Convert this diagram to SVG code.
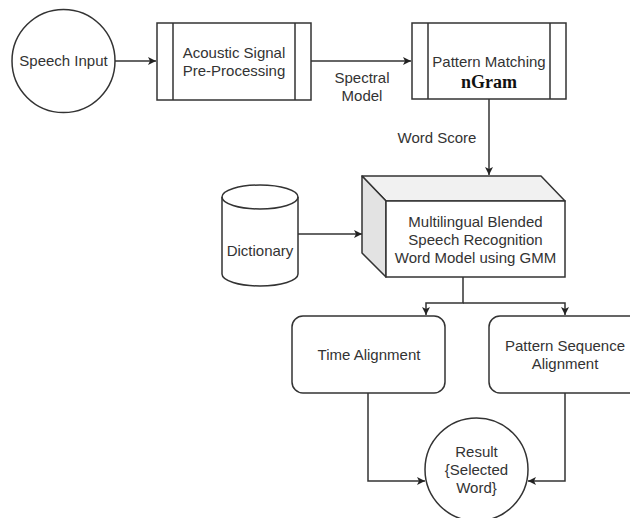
<svg xmlns="http://www.w3.org/2000/svg" width="630" height="518" viewBox="0 0 630 518">
<defs>
<marker id="arr" viewBox="0 0 10 10" refX="10" refY="5" markerWidth="8" markerHeight="8" markerUnits="userSpaceOnUse" orient="auto">
<path d="M0,0 L10,5 L0,10 L2.5,5 Z" fill="#222"/>
</marker>
<style>
.s{fill:#fff;stroke:#333;stroke-width:1.5}
.t{font-family:"Liberation Sans",Arial,sans-serif;font-size:15px;fill:#333;text-anchor:middle}
.e{fill:none;stroke:#333;stroke-width:1.5}
</style>
</defs>
<rect width="630" height="518" fill="#fff"/>
<g id="connectors">
<path class="e" d="M115,61 H156" marker-end="url(#arr)"/>
<path class="e" d="M311,61 H411" marker-end="url(#arr)"/>
<path class="e" d="M489,99 V175" marker-end="url(#arr)"/>
<path class="e" d="M298,234 H362" marker-end="url(#arr)"/>
<path class="e" d="M463,277 V303 H426 V315" marker-end="url(#arr)"/>
<path class="e" d="M463,303 H565 V315" marker-end="url(#arr)"/>
<path class="e" d="M368,393 V481 H425" marker-end="url(#arr)"/>
<path class="e" d="M565,393 V481 H528" marker-end="url(#arr)"/>
<text class="t" x="362" y="83">Spectral</text>
<text class="t" x="362" y="101">Model</text>
<text class="t" x="437" y="143">Word Score</text>
</g>
<g id="speech-input">
<circle class="s" cx="63.5" cy="61" r="51.5"/>
<text class="t" x="63.5" y="66">Speech Input</text>
</g>
<g id="acoustic">
<rect class="s" x="157" y="23" width="154" height="77"/>
<path class="e" d="M173,23 V100 M295,23 V100"/>
<text class="t" x="234" y="58">Acoustic Signal</text>
<text class="t" x="234" y="76">Pre-Processing</text>
</g>
<g id="pattern-matching">
<rect class="s" x="412" y="23" width="154" height="76"/>
<path class="e" d="M428,23 V99 M550,23 V99"/>
<text class="t" x="489" y="67">Pattern Matching</text>
<text x="489" y="88" text-anchor="middle" font-family="'Liberation Serif','Times New Roman',serif" font-weight="bold" font-size="18" fill="#111">nGram</text>
</g>
<g id="dictionary">
<path class="s" d="M222,197 A38,12 0 0 1 298,197 V274 A38,12 0 0 1 222,274 Z"/>
<path class="e" d="M222,197 A38,12 0 0 0 298,197"/>
<text class="t" x="260" y="256">Dictionary</text>
</g>
<g id="gmm-model">
<path d="M362,176 H541 L565,201 H386 Z" fill="#f1f1f1" stroke="#333" stroke-width="1.5" stroke-linejoin="round"/>
<path d="M362,176 L386,201 V277 L362,253 Z" fill="#e3e3e3" stroke="#333" stroke-width="1.5" stroke-linejoin="round"/>
<rect class="s" x="386" y="201" width="179" height="76"/>
<text class="t" x="475.5" y="227">Multilingual Blended</text>
<text class="t" x="475.5" y="245">Speech Recognition</text>
<text class="t" x="475.5" y="263">Word Model using GMM</text>
</g>
<g id="time-alignment">
<rect class="s" x="292" y="316" width="153" height="77" rx="11"/>
<text class="t" x="369" y="360">Time Alignment</text>
</g>
<g id="pattern-sequence">
<rect class="s" x="489" y="316" width="153" height="77" rx="11"/>
<text class="t" x="565" y="351">Pattern Sequence</text>
<text class="t" x="565" y="369">Alignment</text>
</g>
<g id="result">
<circle class="s" cx="476.5" cy="469.5" r="51.5"/>
<text class="t" x="476.5" y="457">Result</text>
<text class="t" x="476.5" y="475">{Selected</text>
<text class="t" x="476.5" y="493">Word}</text>
</g>
</svg>
